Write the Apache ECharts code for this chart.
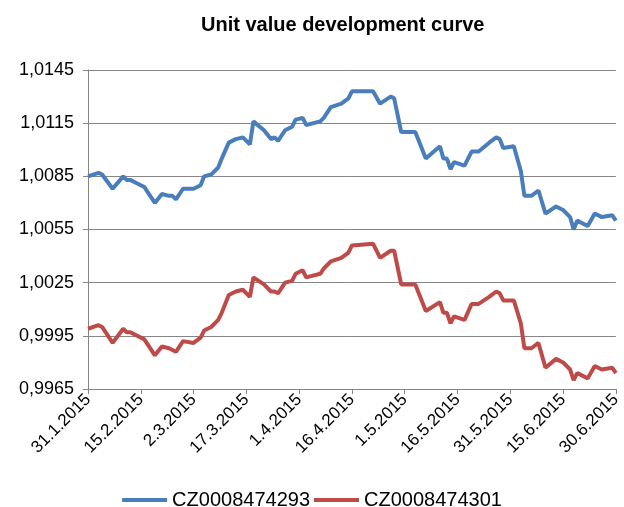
<!DOCTYPE html>
<html>
<head>
<meta charset="utf-8">
<script src="https://cdn.jsdelivr.net/npm/echarts@6/dist/echarts.min.js"></script>
<style>
  html, body { margin: 0; padding: 0; background: #fff; }
  #chart { width: 624px; height: 507px; }
</style>
</head>
<body>
<div id="chart"></div>
<script>
// dates of the sampled points
const dates = [
  '2015-01-31', '2015-02-03', '2015-02-04', '2015-02-07', '2015-02-10', '2015-02-11', '2015-02-12',
  '2015-02-14', '2015-02-16', '2015-02-17', '2015-02-19', '2015-02-21', '2015-02-23', '2015-02-24',
  '2015-02-25', '2015-02-27', '2015-03-02', '2015-03-04', '2015-03-05', '2015-03-07', '2015-03-09',
  '2015-03-10', '2015-03-12', '2015-03-14', '2015-03-16', '2015-03-18', '2015-03-19', '2015-03-22',
  '2015-03-24', '2015-03-25', '2015-03-26', '2015-03-28', '2015-03-30', '2015-03-31', '2015-04-02',
  '2015-04-03', '2015-04-07', '2015-04-08', '2015-04-10', '2015-04-13', '2015-04-15', '2015-04-16',
  '2015-04-22', '2015-04-24', '2015-04-27', '2015-04-28', '2015-04-30', '2015-05-04', '2015-05-07',
  '2015-05-11', '2015-05-12', '2015-05-13', '2015-05-14', '2015-05-15', '2015-05-18', '2015-05-20',
  '2015-05-22', '2015-05-25', '2015-05-27', '2015-05-28', '2015-05-29', '2015-06-01', '2015-06-03',
  '2015-06-04', '2015-06-06', '2015-06-08', '2015-06-10', '2015-06-13', '2015-06-15', '2015-06-17',
  '2015-06-18', '2015-06-19', '2015-06-22', '2015-06-24', '2015-06-26', '2015-06-29', '2015-06-30'
];

// CZ0008474293
const fundA = [
  1.0085, 1.0087, 1.0086, 1.0078, 1.0085, 1.0083, 1.0083,
  1.0081, 1.0079, 1.0076, 1.0070, 1.0075, 1.0074, 1.0074,
  1.0072, 1.0078, 1.0078, 1.0080, 1.0085, 1.0086, 1.0090,
  1.0095, 1.0104, 1.0106, 1.0107, 1.0103, 1.0116, 1.0111,
  1.0106, 1.0107, 1.0105, 1.0111, 1.0113, 1.0117, 1.0118,
  1.0114, 1.0116, 1.0118, 1.0124, 1.0126, 1.0129, 1.0133,
  1.0133, 1.0126, 1.0130, 1.0129, 1.0110, 1.0110, 1.0095,
  1.0102, 1.0095, 1.0095, 1.0089, 1.0093, 1.0091, 1.0099,
  1.0099, 1.0104, 1.0107, 1.0106, 1.0101, 1.0102, 1.0088,
  1.0074, 1.0074, 1.0077, 1.0064, 1.0068, 1.0066, 1.0062,
  1.0055, 1.0060, 1.0057, 1.0064, 1.0062, 1.0063, 1.0060
];

// CZ0008474301
const fundB = [
  0.9999, 1.0001, 1.0000, 0.9991, 0.9999, 0.9997, 0.9997,
  0.9995, 0.9993, 0.9990, 0.9984, 0.9989, 0.9988, 0.9987,
  0.9986, 0.9992, 0.9991, 0.9994, 0.9998, 1.0000, 1.0004,
  1.0008, 1.0018, 1.0020, 1.0021, 1.0017, 1.0028, 1.0024,
  1.0020, 1.0020, 1.0019, 1.0025, 1.0026, 1.0030, 1.0032,
  1.0028, 1.0030, 1.0033, 1.0037, 1.0039, 1.0042, 1.0046,
  1.0047, 1.0039, 1.0043, 1.0043, 1.0024, 1.0024, 1.0009,
  1.0014, 1.0008, 1.0008, 1.0002, 1.0006, 1.0004, 1.0013,
  1.0013, 1.0017, 1.0020, 1.0019, 1.0015, 1.0015, 1.0002,
  0.9988, 0.9988, 0.9991, 0.9977, 0.9982, 0.9980, 0.9976,
  0.9970, 0.9974, 0.9971, 0.9978, 0.9976, 0.9977, 0.9974
];

const seriesNames = ['CZ0008474293', 'CZ0008474301'];
const xTickLabels = ['31.1.2015', '15.2.2015', '2.3.2015', '17.3.2015', '1.4.2015', '16.4.2015',
  '1.5.2015', '16.5.2015', '31.5.2015', '15.6.2015', '30.6.2015'];

// days since 31.1.2015
const start = Date.UTC(2015, 0, 31);
function dayOf(s) {
  const p = s.split('-');
  return Math.round((Date.UTC(+p[0], +p[1] - 1, +p[2]) - start) / 86400000);
}

const myChart = echarts.init(document.getElementById('chart'));

const option = {
  animation: false,
  title: {
    text: 'Unit value development curve',
    left: 196,
    top: 10,
    textStyle: {
      fontFamily: 'Liberation Sans',
      fontWeight: 'bold',
      fontSize: 20,
      color: '#000'
    }
  },
  color: ['#4A7EBB', '#BE4B48'],
  legend: {
    top: 485,
    left: 'center',
    icon: 'rect',
    itemWidth: 45,
    itemHeight: 4,
    itemGap: 4,
    textStyle: { fontFamily: 'Liberation Sans', fontSize: 20, color: '#000' },
    data: seriesNames
  },
  grid: {
    left: 88,
    right: 4,
    top: 70,
    bottom: 118
  },
  xAxis: {
    type: 'value',
    min: 0,
    max: 150,
    interval: 15,
    axisLine: { lineStyle: { color: '#868686' } },
    axisTick: { show: true, length: 5, lineStyle: { color: '#868686' } },
    splitLine: { show: false },
    axisLabel: {
      rotate: 45,
      margin: 8,
      fontFamily: 'Liberation Sans',
      fontSize: 17,
      color: '#000',
      formatter: v => xTickLabels[Math.round(v / 15)]
    }
  },
  yAxis: {
    type: 'value',
    min: 0.9965,
    max: 1.0145,
    interval: 0.003,
    axisLine: { show: true, lineStyle: { color: '#868686' } },
    axisTick: { show: true, length: 5, lineStyle: { color: '#868686' } },
    splitLine: { lineStyle: { color: '#868686' } },
    axisLabel: {
      margin: 14,
      fontFamily: 'Liberation Sans',
      fontSize: 18,
      color: '#000',
      formatter: v => v.toFixed(4).replace('.', ',')
    }
  },
  series: [
    {
      name: seriesNames[0],
      type: 'line',
      symbol: 'none',
      lineStyle: { width: 4 },
      data: dates.map((d, i) => [dayOf(d), fundA[i]])
    },
    {
      name: seriesNames[1],
      type: 'line',
      symbol: 'none',
      lineStyle: { width: 4 },
      data: dates.map((d, i) => [dayOf(d), fundB[i]])
    }
  ]
};

myChart.setOption(option);
window.addEventListener('resize', () => {
  myChart.resize();
});
</script>
</body>
</html>
